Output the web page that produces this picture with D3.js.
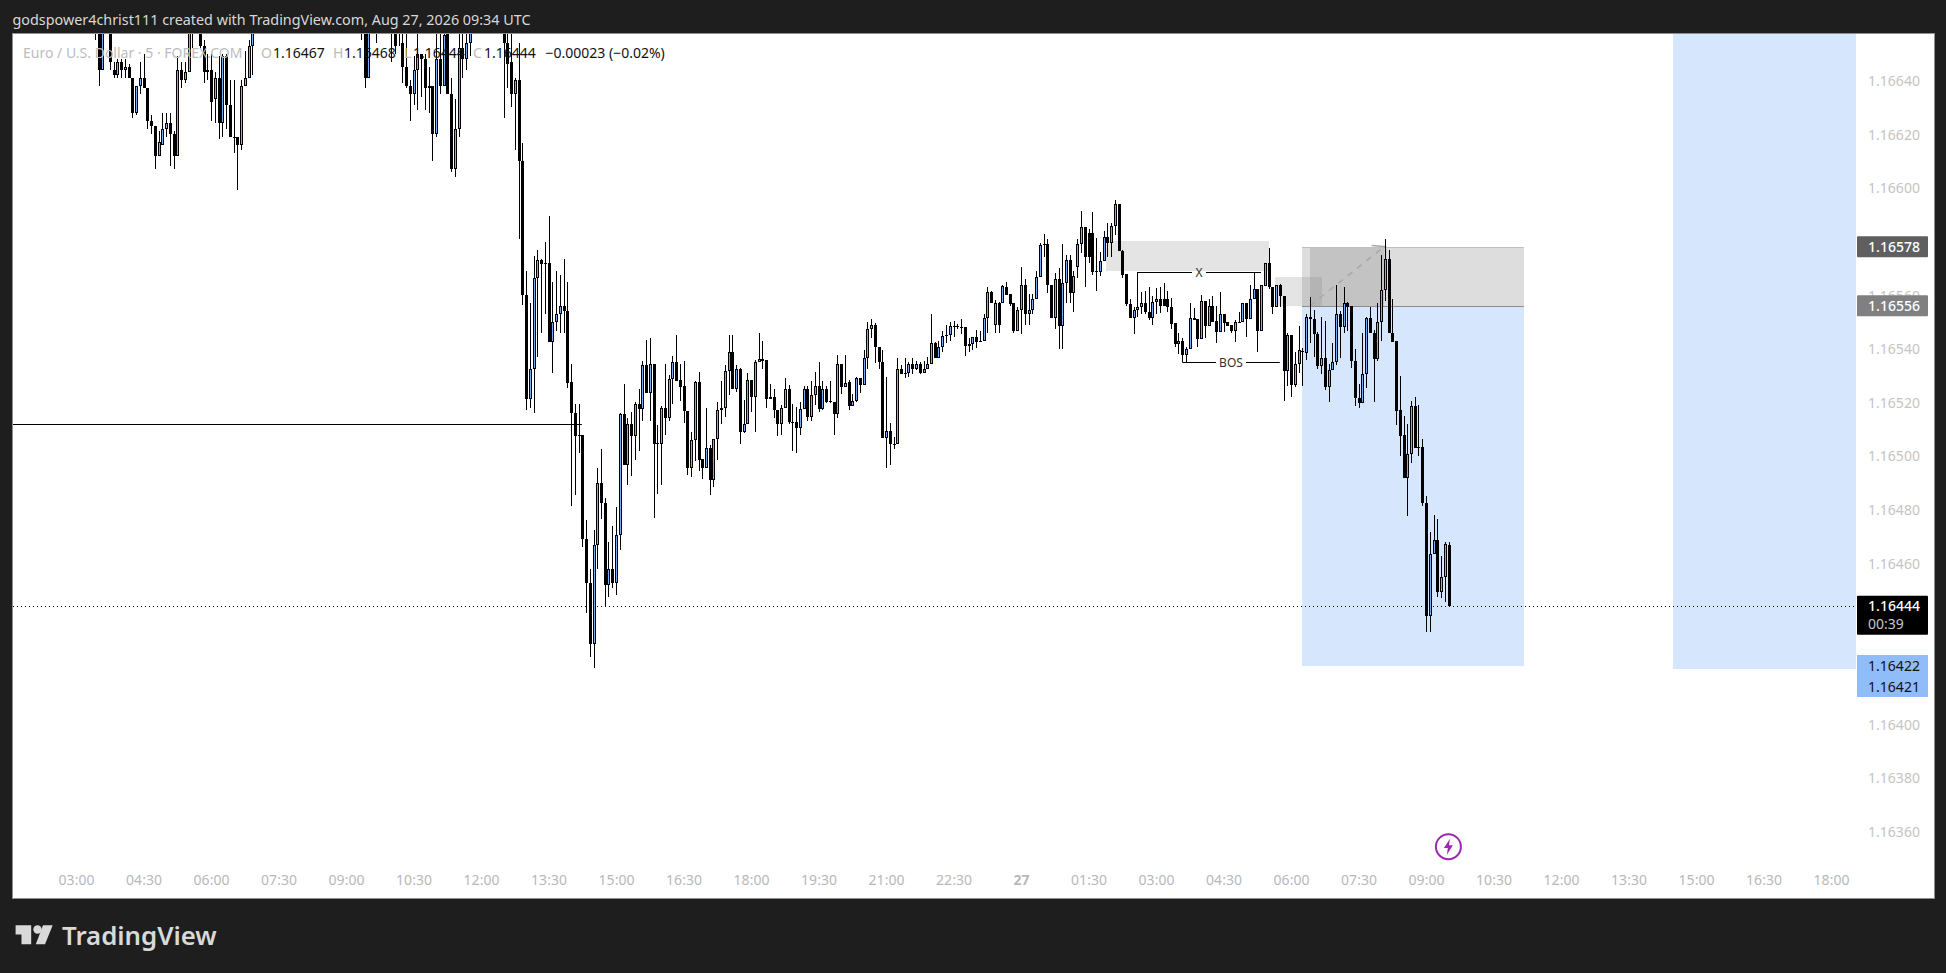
<!DOCTYPE html>
<html lang="en">
<head>
<meta charset="utf-8">
<title>EURUSD 5m</title>
<script src="https://cdnjs.cloudflare.com/ajax/libs/d3/7.8.5/d3.min.js"></script>
<style>
html, body { margin: 0; background: #1e1e1e; }
svg { display: block; }
text { font-family: "Noto Sans", sans-serif; }
</style>
</head>
<body>
<div id="chart"></div>
<script>
// bar numbers counted in 5 minute steps from 03:00 on the 26th, bars above the view are left out
const barIndex = [5, 6, 7].concat(d3.range(9, 32), d3.range(33, 48), [76, 77, 78, 80], d3.range(84, 106), d3.range(114, 367));

// candle values, in points above 1.16000
const opens = [662,662,644,
  662,644,642,647,644,645,641,628,638,641,637,625,623,612,616,622,624,620,612,644,640,643,662,
  662,653,643,644,633,641,624,649,631,619,619,616,638,641,653,
  662,660,641,662,
  662,662,662,654,645,638,635,644,650,648,637,638,620,648,638,660,635,607,622,652,648,654,
  662,654,647,635,640,610,560,521.3,532.6,566.2,
  573,572,572,542.6,549.8,553,555.8,554,527.4,516,
  507.8,507.8,468.9,452.8,429.8,467,489.8,482.3,451.8,457.7,
  452.8,470.4,515.5,496.7,511.8,507.5,519.2,517.4,533.8,523.6,
  534.1,504.7,504.6,517.7,514,528.8,534.9,528.3,526,516.9,
  495.6,505.8,527.4,498.7,495.6,502.8,491,506.2,517,517.7,
  531.8,538.6,524.8,532.3,509,511.8,528.2,521.8,534.9,536.2,
  535.6,521.8,521.8,517.3,512,517.7,524.8,512.8,512.8,510.5,
  517.4,524.8,514.6,522.9,525.9,517.6,524.8,520.4,520,515.7,
  534.1,525.8,527.7,518.6,520.6,528.9,526.5,536.7,547.5,548.7,
  540.5,535.2,506.8,509.2,504.6,504.5,532.3,531,530.8,534.1,
  532.5,534.1,531,532.5,534.1,542,536.7,540.5,545,545,
  548.3,548.3,548.2,547.9,541.1,541.9,544.2,542.7,542.7,551.3,
  561,548.7,556.9,556.9,563.1,560.2,556.9,546.6,554.6,563.7,
  553.1,554.6,558.7,566.8,579,579.2,563.7,551.5,565.8,548.5,
  564.6,573,560.6,570.5,579.2,585.2,583.3,583.3,568.8,568.7,
  572.8,581.7,579.5,585.7,594.1,576.5,567.8,556.6,551.5,554.6,
  555.6,556.9,553.8,551.5,557.5,558.7,558.7,558.7,555.6,549.4,
  541.7,542.8,537.6,539.7,551.6,550.9,543.7,557.7,548.5,555.9,
  550.3,546.3,552.8,549.8,548.8,546.7,549.8,549.8,556.9,551.1,
  558.7,562.1,546.6,563.4,572.1,562.9,555.6,563.7,559.8,531.8,
  545.1,526.4,534.1,539.2,538.5,551.7,550.9,545.3,533.6,536.7,
  525.8,531.9,534.9,552.8,548.2,556.9,555.8,535.5,521.7,519.9,
  530.4,551.3,545.7,536.1,549.8,561.7,573.3,545.7,542.8,517,
  507.8,491.9,500.6,518.6,503.2,503.2,482.6,440.5,463.3,468.5,
  449.4,454.8,467];
const highs = [668,665,664,
  664,647,648,648,648,646,641,638,647,650,637,627,623,621,628,628,628,621,649,647,647,665,666,
  664,655,650,650,643,649,650,650,640,640,619,640,651,655,664,
  668,665,664,666,
  666,665,666,660,660,640,649,660,650,650,645,638,660,660,662,664,641,633,660,660,660,664,
  665,660,660,641,654,616.5,568.9,557,574.5,576.8,
  573.6,579.7,589.4,564.7,569,567.4,573.6,564.7,534.1,519.3,
  519.3,507.8,476.1,457.7,472.4,495.7,502.6,484.2,467.8,473.9,
  480.8,516.1,526.8,514,516.4,520.2,524.8,535.4,543.4,543.8,
  534.1,511.5,518.7,534.1,530,537.2,545,534.3,535.4,516.9,
  508.9,528,531.4,498.7,517.7,504,506.2,520,527.9,533.9,
  545,545,533.9,532.9,520.8,530.8,528.2,535.7,545.7,542.8,
  535.6,526.8,524.8,517.3,519,528.9,526.4,519.3,518.3,520,
  526,526,527.9,531.3,535,527.9,526,527.9,520,537.8,
  534.1,537.8,528.3,523.1,529.3,528.9,539.5,549.8,550.9,549.4,
  540.5,539.5,529.3,512.4,507,536.6,533.9,536.7,535.1,536.7,
  535.5,535.1,535.4,537,553.1,542.6,543,546.5,548.8,550,
  550.4,549.2,550.9,548.2,544,544.2,546.9,546.7,552.9,563,
  561.5,558,557.5,563.7,565,560.2,557.1,555.6,570.3,565.9,
  560.3,560.3,568.9,579.5,582.6,580.7,563.7,568.3,569.9,578.9,
  574.9,574.9,568.9,580.7,591.3,585.2,584.5,590.8,581.3,576.1,
  583.8,586.7,586.7,595.4,594.1,576.7,568,558.4,555.6,568.4,
  561.2,561.6,563,559.6,562.8,563.1,564.3,561.6,559,549.4,
  545.7,543.8,540.7,556.9,555,550.9,560,557.7,558.7,559.6,
  556,561.2,553.1,549.8,548.8,550.7,553.8,556.9,556.9,563.7,
  568.3,562.1,563.6,572.1,577.4,562.9,563.7,564,559.8,545.7,
  545.1,538.9,548.4,540.1,553.1,559.4,554.4,546.3,551.7,550.3,
  534.1,542,563.7,554,563.1,557.5,555.8,539.7,526.8,545.9,
  551.7,555.4,546.9,556.9,574.9,580.7,576.7,558.7,542.8,529.8,
  514.9,511.8,520.5,521.8,519,506.2,485,471.8,478,476.5,
  462.7,467.8,468];
const lows = [655,638,644,
  644,641,641,641,641,641,626,627,635,637,622,620,607,612,616,619,608,607,612,637,639,643,652,
  652,639,640,625,624,618,619,622,619,613,599,614,638,641,642,
  655,637,641,654,
  647,650,653,639,637,625,631,629,634,629,628,610,619,635,638,635,606,604,619,641,644,649,
  626,637,630,614,581,556.3,517.1,518,516,537,
  545.7,553,542.6,531,546.7,545.7,545.7,525.4,481.5,485.4,
  501.2,466.2,441.6,425.2,421.1,457.7,476.6,443.8,447.5,450.6,
  448.2,465,496.7,489.2,492.6,498.5,502,513.1,523.6,513.1,
  477,485.8,489.2,507.8,513,519.3,528,520.6,512.4,492.9,
  492.3,498.1,494.4,491.4,495.6,485.4,488.5,498.5,511.9,514.6,
  522.7,524.8,523.9,504.4,508.7,511.8,516.5,509,534.9,532.4,
  518,521.3,514,507.5,507.8,517.7,512,501.8,501.2,507.8,
  517.4,513.1,513.1,519,516.5,517.1,519.6,519.6,507.8,514.2,
  523.1,525.8,517.1,518.6,520.2,523.6,526.5,532.4,544,534.5,
  532.4,506.8,495.6,496.6,502.7,504.5,530.6,529.2,529.5,530.5,
  532,530.5,531,532.3,534.1,536.7,536.7,538.7,542.2,543,
  544.4,547.5,545.3,537.4,538.8,539.5,540.1,542.5,542.7,545.9,
  556.9,546,545.9,556.9,560,556,546,546.6,545.4,548.8,
  548.8,553.1,558.7,566.8,574,560.8,551.5,547.2,539.7,539.7,
  556.9,556.9,553.8,566.2,575.7,563.1,572,567.5,561.6,567.1,
  572.8,574.3,574.3,582.3,576.5,566.2,556,551.3,545.4,551.9,
  553,553.1,550.7,549,552.9,553.4,556,553.8,547.2,540.7,
  538.2,535.1,535.1,539.7,550.7,540.7,543.7,543.8,548.5,550,
  542.2,546.3,546.3,548.5,545.7,542.6,549.5,549.8,544.4,551.1,
  558.7,538.8,546.6,563.4,562.1,553.1,555.6,555.6,520.6,526,
  522.1,525.6,531,526,535.8,542,537,532.6,530.5,524.6,
  520.2,531.9,533.9,536.4,545.9,546.6,532.9,518.7,518,519.9,
  525.4,545.7,520.2,535.5,543,557.7,545.7,542.6,511.5,500,
  491.9,477.7,497.2,502.8,500.1,481.4,434.5,434.5,463.3,447.5,
  447.2,445.7,444];
const closes = [660,644,660,
  647,642,647,644,645,641,628,638,641,637,625,623,612,617,622,624,620,612,644,640,643,660,658,
  652.7,643,644,632,641,624,649,631,619,618.7,616,638,641,653,660,
  660,641,660,660,
  660,653,659,645,638,635,644,650,648,637,638,620,648,638,657,635,607,622,652,648,654,660,
  654,646,635,640,610,560,521.3,532.6,566.2,573,
  571.7,571.7,542.6,549.8,553,555.8,554,527.3,515.9,507.4,
  507.4,468.9,452.8,429.8,467,489.8,482.3,451.8,457.7,452.8,
  470.4,515.5,496.7,511.8,507.5,519.2,517.4,533.8,523.6,534.1,
  504.6,504.6,517.7,514,528.8,534.9,528,525.8,516.9,495.6,
  505.8,527.4,498.5,495.6,502.8,491,506.2,517,517.7,531.8,
  538.6,524.8,532.3,509,511.8,528.2,521.8,534.9,536.2,535.5,
  521.3,521.3,517.1,512,517.7,524.8,512.8,512.6,510.5,517.4,
  524.8,514.6,522.9,525.9,517.6,524.8,520.2,520.1,515.7,534.1,
  525.8,527.3,518.6,520.6,528.9,526.5,536.7,547.5,548.7,540.5,
  535.1,506.8,509.2,504.3,504.3,532.3,530.6,530.8,534.1,532.5,
  534.1,531,532.5,534.1,542,536.7,540.5,544.9,545.1,548.3,
  548.3,548.2,548.1,541.1,541.9,544.2,542.6,542.7,551.3,561,
  556.9,556.9,548.7,563.3,560,556.6,546.6,554.6,563.7,553.1,
  554.6,558.7,566.8,578.8,579,563.7,551.5,565.8,548.5,564.6,
  573,560.6,567,579.2,585.2,574.3,574.3,568.7,568.8,572.8,
  581.7,579.5,585.7,594.1,576.5,567.5,556.6,551.5,554.6,555.6,
  556.9,553.8,551.5,557.5,558.7,556,556,555.6,549.2,541.7,
  542.8,537.6,539.7,551.6,550.7,543.7,557.7,548.5,555.9,550,
  546.3,552.8,549.7,548.5,546.7,549.8,549.8,556.9,551.1,558.7,
  562.1,546.6,563.6,572.1,563.1,555.6,563.7,559.8,531.8,545.1,
  526.4,534.1,539.4,539,551.7,550.9,545.3,533.6,536.7,525.8,
  531.9,534.9,552.8,548.2,556.9,555.6,535.5,521.7,519.9,530.4,
  551.3,545.7,536.1,549.8,561.7,573.3,545.7,542.6,516.9,507.6,
  491.9,500.6,518.6,502.8,502.8,482.6,440.5,463.3,468.5,449.4,
  454.8,467.1,444];

const priceTicks = [640, 620, 600, 580, 560, 540, 520, 500, 480, 460, 400, 380, 360];
const timeLabels = ["03:00","04:30","06:00","07:30","09:00","10:30","12:00","13:30","15:00","16:30","18:00","19:30","21:00","22:30","27",
  "01:30","03:00","04:30","06:00","07:30","09:00","10:30","12:00","13:30","15:00","16:30","18:00"];

const toPrice = p => 1.16 + p / 100000;

const svg = d3.select("#chart").append("svg").attr("width", 1946).attr("height", 973);

const plotLeft = 13, plotRight = 1933, plotTop = 34, plotBottom = 897, scaleLeft = 1857;

const x = d3.scaleLinear().domain([0, 468]).range([76, 1831]);
const y = d3.scaleLinear().domain([toPrice(335.6), toPrice(657.3)]).range([plotBottom, plotTop]);

svg.append("rect").attr("x", plotLeft - 1).attr("y", plotTop - 1)
  .attr("width", plotRight - plotLeft + 2).attr("height", plotBottom - plotTop + 2)
  .attr("fill", "#fff").attr("stroke", "#8f8f8f").attr("stroke-width", 1).attr("shape-rendering", "crispEdges");

svg.append("defs").append("clipPath").attr("id", "plot").append("rect")
  .attr("x", plotLeft).attr("y", plotTop).attr("width", scaleLeft - plotLeft).attr("height", plotBottom - plotTop);

const plot = svg.append("g").attr("clip-path", "url(#plot)");

function box(x0, x1, p0, p1, fill) {
  return plot.append("rect").attr("x", x(x0)).attr("width", x(x1) - x(x0))
    .attr("y", y(toPrice(p0))).attr("height", y(toPrice(p1)) - y(toPrice(p0)))
    .attr("fill", fill).attr("shape-rendering", "crispEdges");
}

// target zones
box(326.9, 386.1, 556, 421.7, "#d6e6fc");
box(425.9, 474.7, 700, 420.7, "#d6e6fc");
box(326.9, 386.1, 578, 556, "rgba(120,120,120,0.25)");
box(329.1, 348.8, 578, 556, "rgba(120,120,120,0.25)");
box(319.7, 332.2, 566.6, 556, "rgba(120,120,120,0.2)");
box(274.7, 318.1, 580.1, 568.9, "rgba(120,120,120,0.2)");

[[578, "#c0c0c0"], [556, "#8c8c8c"]].forEach(([p, c]) => {
  plot.append("line").attr("x1", x(326.9)).attr("x2", x(386.1))
    .attr("y1", Math.round(y(toPrice(p))) + 0.5).attr("y2", Math.round(y(toPrice(p))) + 0.5)
    .attr("stroke", c);
});

// dashed arrow
plot.append("line").attr("x1", x(329.1)).attr("y1", y(toPrice(556))).attr("x2", x(348.8)).attr("y2", y(toPrice(578)))
  .attr("stroke", "#a8a8a8").attr("stroke-width", 1.5).attr("stroke-dasharray", "6 6");
plot.append("path").attr("fill", "none").attr("stroke", "#a8a8a8").attr("stroke-width", 1.5)
  .attr("d", d3.line()([[x(345.5), y(toPrice(578.5))], [x(349.2), y(toPrice(578))], [x(349.2), y(toPrice(571.5))]]));

// horizontal level on the left
plot.append("line").attr("x1", plotLeft).attr("x2", x(134.9))
  .attr("y1", Math.round(y(toPrice(511.8))) + 0.5).attr("y2", Math.round(y(toPrice(511.8))) + 0.5)
  .attr("stroke", "#000").attr("stroke-width", 1);

// last price
plot.append("line").attr("x1", plotLeft).attr("x2", scaleLeft)
  .attr("y1", Math.round(y(toPrice(444))) + 0.5).attr("y2", Math.round(y(toPrice(444))) + 0.5)
  .attr("stroke", "#000").attr("stroke-dasharray", "1 3");

const bars = barIndex.map((b, i) => ({ b, o: toPrice(opens[i]), h: toPrice(highs[i]), l: toPrice(lows[i]), c: toPrice(closes[i]) }));

const candles = plot.append("g").attr("shape-rendering", "crispEdges")
  .selectAll("g").data(bars).enter().append("g");

candles.append("rect").attr("x", d => Math.round(x(d.b))).attr("width", 1)
  .attr("y", d => y(d.h)).attr("height", d => y(d.l) - y(d.h)).attr("fill", "#000");

candles.append("rect").attr("x", d => Math.round(x(d.b)) - 1).attr("width", 3)
  .attr("y", d => y(Math.max(d.o, d.c))).attr("height", d => Math.max(1, Math.abs(y(d.o) - y(d.c))))
  .attr("fill", "#000");

candles.filter(d => d.c > d.o && y(d.o) - y(d.c) > 2).append("rect")
  .attr("x", d => Math.round(x(d.b))).attr("width", 1)
  .attr("y", d => y(d.c) + 1).attr("height", d => y(d.o) - y(d.c) - 2)
  .attr("fill", "#78aef5");

// X and BOS marks
function mark(label, x0, x1, gapL, gapR, p) {
  const yy = Math.round(y(toPrice(p))) + 0.5;
  plot.append("line").attr("x1", x(x0)).attr("x2", gapL).attr("y1", yy).attr("y2", yy).attr("stroke", "#000");
  plot.append("line").attr("x1", gapR).attr("x2", x(x1)).attr("y1", yy).attr("y2", yy).attr("stroke", "#000");
  plot.append("text").attr("x", (gapL + gapR) / 2).attr("y", yy + 4).attr("text-anchor", "middle")
    .attr("font-size", 12).attr("fill", "#333").text(label);
}
mark("X", 283, 316, 1192, 1206, 568.4);
mark("BOS", 295, 321, 1216, 1246, 534.9);

// axes
const priceAxis = svg.append("g").attr("transform", "translate(1894,0.5)")
  .call(d3.axisRight(y).tickValues(priceTicks.map(toPrice)).tickFormat(d3.format(".5f")).tickSize(0).tickPadding(0));
priceAxis.select(".domain").remove();
priceAxis.selectAll("text").attr("text-anchor", "middle").attr("fill", "#c4c4c4")
  .style("font-family", "Noto Sans").style("font-size", "14px");

const timeAxis = svg.append("g").attr("transform", "translate(0,875)")
  .call(d3.axisBottom(x).tickValues(timeLabels.map((d, i) => i * 18)).tickFormat((d, i) => timeLabels[i]).tickSize(0).tickPadding(0));
timeAxis.select(".domain").remove();
timeAxis.selectAll("text").attr("fill", "#b8b8b8")
  .style("font-family", "Noto Sans").style("font-size", "14px")
  .style("font-weight", (d, i) => timeLabels[i] == "27" ? 700 : 400);

// price tags
const tagPrices = [578, 556];
const tagColors = ["#5f5f5f", "#808080"];
tagPrices.forEach((p, i) => {
  const yy = y(toPrice(p));
  svg.append("rect").attr("x", scaleLeft).attr("y", yy - 10.5).attr("width", 71).attr("height", 21).attr("rx", 1).attr("fill", tagColors[i]);
  svg.append("text").attr("x", 1894).attr("y", yy + 5).attr("text-anchor", "middle").attr("font-size", 14).attr("font-weight", 500).attr("fill", "#fff").text(d3.format(".5f")(toPrice(p)));
});

const lastY = y(toPrice(444));
svg.append("rect").attr("x", scaleLeft).attr("y", lastY - 10.5).attr("width", 71).attr("height", 39).attr("rx", 1).attr("fill", "#000");
svg.append("text").attr("x", 1894).attr("y", lastY + 5).attr("text-anchor", "middle").attr("font-size", 14).attr("font-weight", 500).attr("fill", "#fff").text("1.16444");
svg.append("text").attr("x", 1868).attr("y", lastY + 23).attr("font-size", 14).attr("fill", "#c8c8c8").text("00:39");

svg.append("rect").attr("x", scaleLeft).attr("y", 655).attr("width", 71).attr("height", 42).attr("fill", "#90bdfa");
svg.append("text").attr("x", 1894).attr("y", 670.5).attr("text-anchor", "middle").attr("font-size", 14).attr("fill", "#111").text("1.16422");
svg.append("text").attr("x", 1894).attr("y", 692).attr("text-anchor", "middle").attr("font-size", 14).attr("fill", "#111").text("1.16421");

// legend row
const legendParts = [
  ["Euro / U.S. Dollar \u00b7 5 \u00b7 FOREX.COM", 23, "#bcbcbc"],
  ["O", 261, "#bcbcbc"], ["1.16467", 273, "#111"],
  ["H", 333, "#bcbcbc"], ["1.16468", 344, "#111"],
  ["L", 404, "#bcbcbc"], ["1.16444", 413, "#111"],
  ["C", 473, "#bcbcbc"], ["1.16444", 484, "#111"],
  ["\u22120.00023 (\u22120.02%)", 545.5, "#111"]
];
svg.selectAll(".legend").data(legendParts).enter().append("text").attr("class", "legend")
  .attr("x", d => d[1]).attr("y", 57.5).attr("font-size", 14).attr("fill", d => d[2]).text(d => d[0]);

// header and footer
svg.append("text").attr("x", 12.5).attr("y", 24.5).attr("font-size", 14.35).attr("fill", "#d8d8d8")
  .text("godspower4christ111 created with TradingView.com, Aug 27, 2026 09:34 UTC");

const logo = svg.append("g").attr("fill", "#d9d9d9");
logo.append("path").attr("d", "M15.6 925.3H31.2V944.3H21.5V934.6H15.6Z");
logo.append("circle").attr("cx", 37.5).attr("cy", 929.5).attr("r", 4.2);
logo.append("path").attr("d", "M43 925.3H52.7L45 944.3H35.8Z");
svg.append("text").attr("x", 62).attr("y", 944.5).attr("font-size", 25.8).attr("font-weight", 600)
  .attr("fill", "#d9d9d9").text("TradingView");

// lightning marker
const bolt = svg.append("g").attr("transform", "translate(1448.4,846.7)");
bolt.append("circle").attr("r", 12.5).attr("fill", "#fff").attr("stroke", "#9c27b0").attr("stroke-width", 2);
bolt.append("path").attr("d", "M1.5 -8L-4.5 1.2H-0.6L-1.5 8L4.5 -1.4H0.6Z").attr("fill", "#9c27b0");
</script>
</body>
</html>
